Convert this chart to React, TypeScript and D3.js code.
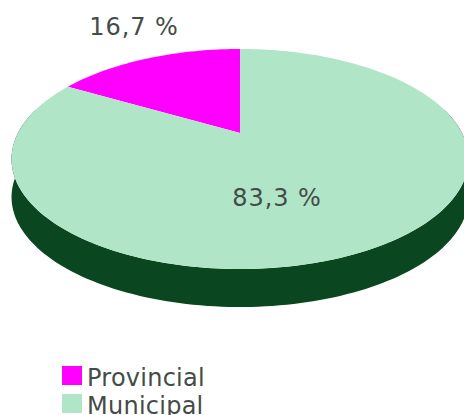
import React from 'react';
import * as d3 from 'd3';

const categories = ['Provincial', 'Municipal'];
const shares = [16.7, 83.3];
const shareLabels = ['16,7 %', '83,3 %'];
const colors = ['#ff00ff', '#b0e5c8'];
const sideColor = '#0a4720';

type Slice = { name: string; value: number };

// Perspective settings for the tilted disc
const apex = { x: 240, y: 133 };
const spreadX = 222;
const spreadY = 103.85;
const tilt = 0.2364;
const depth = 38;

// angle 0 is the far point of the disc, going clockwise
const project = (angle: number, r = 1): [number, number] => {
  const u = r * Math.sin(angle);
  const v = -r * Math.cos(angle);
  const w = 1 - tilt * v;
  return [apex.x + (spreadX * u) / w, apex.y + (spreadY * v) / w];
};

const line = d3.line();

const sweep = (a0: number, a1: number) => {
  const n = Math.max(2, Math.ceil(Math.abs(a1 - a0) * 40));
  return d3.range(n + 1).map((i) => a0 + ((a1 - a0) * i) / n);
};

const App = () => {
  const slices: Slice[] = categories.map((name, i) => ({ name, value: shares[i] }));

  // Municipal starts at the top, Provincial closes the circle
  const pie = d3
    .pie<Slice>()
    .value((d) => d.value)
    .sort((a, b) => categories.indexOf(b.name) - categories.indexOf(a.name));
  const arcs = pie(slices);

  // Near half of the rim for the side wall
  const rim = sweep(Math.PI / 2 - 0.24, (3 * Math.PI) / 2 + 0.24).map((a) => project(a));
  const wall = [...rim, ...rim.slice().reverse().map(([x, y]) => [x, y + depth] as [number, number])];

  const legendY = d3.scalePoint<string>().domain(categories).range([376, 404]);

  const font = { fontFamily: '"DejaVu Sans", Verdana, sans-serif', fill: '#444c48' };

  return (
    <svg
      width={464}
      height={415}
      style={{ position: 'absolute', left: 0, top: 0, background: '#fff' }}
    >
      <path d={line(wall) ?? ''} fill={sideColor} />
      {arcs.map((d) => (
        <path
          key={d.data.name}
          d={(line([[apex.x, apex.y], ...sweep(d.startAngle, d.endAngle).map((a) => project(a))]) ?? '') + 'Z'}
          fill={colors[categories.indexOf(d.data.name)]}
        />
      ))}
      <text x={134} y={35} textAnchor="middle" fontSize={24} letterSpacing={0.9} {...font}>
        {shareLabels[0]}
      </text>
      <text x={277} y={206} textAnchor="middle" fontSize={24} letterSpacing={0.9} {...font}>
        {shareLabels[1]}
      </text>
      {categories.map((name, i) => (
        <g key={name} transform={`translate(62,${legendY(name)})`}>
          <rect x={0} y={-10} width={20} height={19} fill={colors[i]} />
          <text x={25} y={10} fontSize={24} letterSpacing={0.25} {...font}>
            {name}
          </text>
        </g>
      ))}
    </svg>
  );
};

export default App;
